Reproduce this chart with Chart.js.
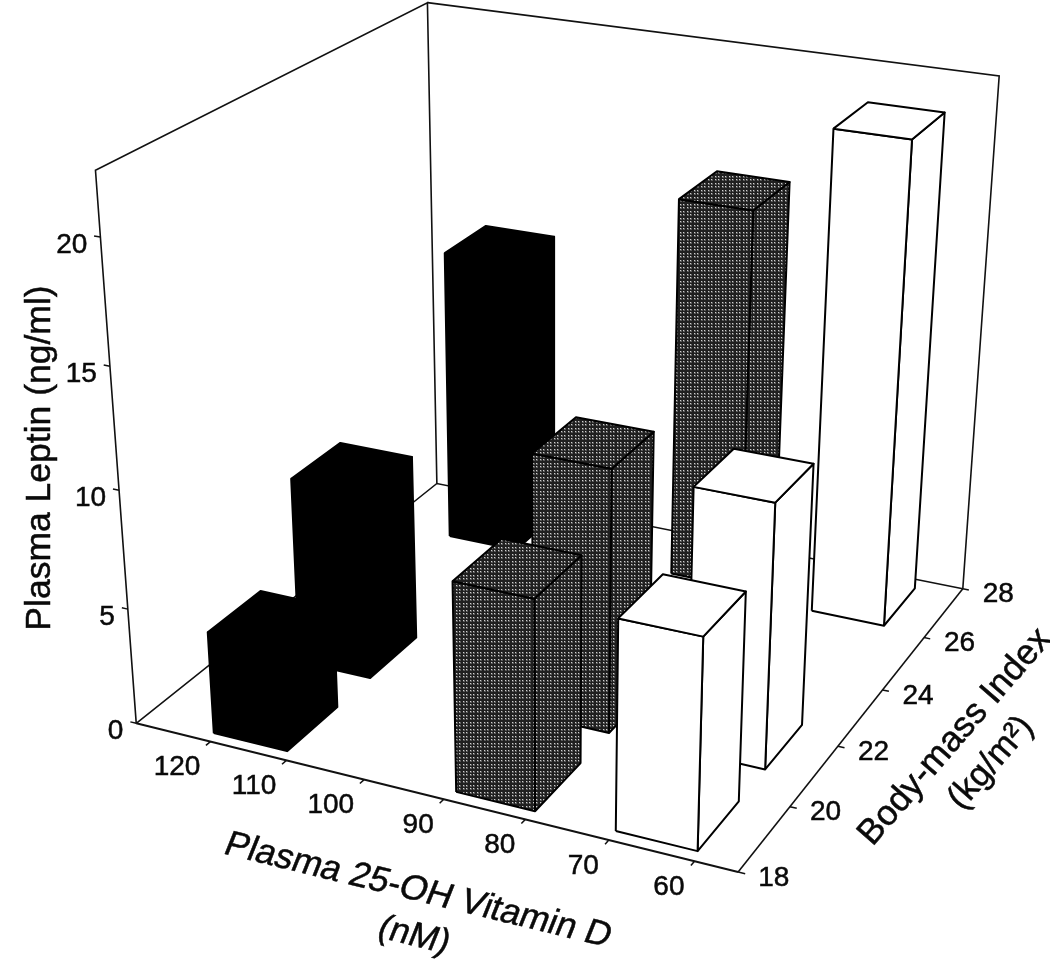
<!DOCTYPE html>
<html><head><meta charset="utf-8"><style>html,body{margin:0;padding:0;background:#fff}canvas{display:block}</style>
<script src="https://cdn.jsdelivr.net/npm/chart.js@4"></script></head>
<body><canvas id="c" width="1050" height="961"></canvas>
<script>
// ---- Data ----
const vitDTicks = [120,110,100,90,80,70,60];
const bmiTicks = [18,20,22,24,26,28];
const leptinTicks = [0,5,10,15,20];
const barNames = ['black high','black mid','black back','gray back','gray mid','gray front','white back','white mid','white front'];
const barTone = ['black','black','black','gray','gray','gray','white','white','white'];
const barVitDHigh = [120.7,120.7,120.7,90.0,89.5,89.5,70.0,70.0,70.1];
const barVitDLow  = [111.0,111.0,111.0,80.4,79.8,79.8,60.5,60.5,60.5];
const barBmiLow   = [18.25,20.86,26.11,26.41,20.87,18.27,26.12,20.86,18.27];
const barBmiHigh  = [19.80,22.42,27.64,27.99,22.40,19.84,27.66,22.39,19.82];
const barLeptin   = [4.41,8.15,13.25,16.93,11.23,8.80,21.01,11.15,8.73];
// draw order, back to front within each column
const drawOrder = [2,1,0,3,4,5,6,7,8];
// axis box limits
const vitDRange = [130,55], bmiRange = [18,28], leptinRange = [0,22.5];
// perspective camera fitted to the axis box
const cam = [538.34079,379.80492,-49.28394,136.24154,73.56308,-152.19817,-568.21039,723.32159,-0.08610,0.18123,-0.08920];

function project(v,b,l){
  const X=(vitDRange[0]-v)/(vitDRange[0]-vitDRange[1]),Y=(b-bmiRange[0])/(bmiRange[1]-bmiRange[0]),Z=l/leptinRange[1];
  const d=cam[8]*X+cam[9]*Y+cam[10]*Z+1;
  return {x:(cam[0]*X+cam[1]*Y+cam[2]*Z+cam[3])/d,y:(cam[4]*X+cam[5]*Y+cam[6]*Z+cam[7])/d};
}
// halftone screen for the gray bars
function halftone(){
  const t=document.createElement('canvas');t.width=7;t.height=7;
  const g=t.getContext('2d');g.fillStyle='#202020';g.fillRect(0,0,7,7);
  [[1,1],[4,1],[1,4],[4,4]].forEach(p=>{
    g.fillStyle='#5a5a5a';g.fillRect(p[0],p[1],2,2);
    g.fillStyle='#d0d0d0';g.fillRect(p[0],p[1],1,1);
  });
  return g.createPattern(t,'repeat');
}
const grayFill=halftone();
const datasets=[];
function line(name,pts,w,color){datasets.push({label:name,data:pts,showLine:true,fill:false,borderColor:color||'#111',borderWidth:w,pointRadius:0,tension:0,order:-datasets.length});}
function face(name,pts,tone){
  const bg=tone==='black'?'#000':tone==='gray'?grayFill:'#fff';
  datasets.push({label:name,data:[...pts,pts[0]],showLine:true,fill:'shape',backgroundColor:bg,borderColor:'#000',borderWidth:2,pointRadius:0,tension:0,borderJoinStyle:'round',order:-datasets.length});
}
const [vA,vB]=vitDRange,[bA,bB]=bmiRange,T=leptinRange[1];
// axis box
line('floor front',[project(vA,bA,0),project(vB,bA,0)],2);
line('floor right',[project(vB,bA,0),project(vB,bB,0)],1.6);
line('floor back',[project(vB,bB,0),project(vA,bB,0),project(vA,bA,0)],1.6);
line('wall left',[project(vA,bA,0),project(vA,bA,T),project(vA,bB,T),project(vA,bB,0)],1.6);
line('wall right',[project(vA,bB,T),project(vB,bB,T),project(vB,bB,0)],1.6);
// tick marks
vitDTicks.forEach(v=>line('tick '+v,[project(v,bA,0),project(v,bA-0.13,0)],1.5));
bmiTicks.forEach(b=>line('tick '+b,[project(vB,b,0),project(vB-0.8,b,0)],1.5));
leptinTicks.forEach(l=>line('tick '+l,[project(vA,bA,l),project(vA+0.8,bA,l)],1.5));
// bars
drawOrder.forEach(i=>{
  const v1=barVitDHigh[i],v2=barVitDLow[i],b1=barBmiLow[i],b2=barBmiHigh[i],h=barLeptin[i],n=barNames[i],t=barTone[i];
  face(n+' side',[project(v2,b1,0),project(v2,b2,0),project(v2,b2,h),project(v2,b1,h)],t);
  face(n+' front',[project(v1,b1,0),project(v2,b1,0),project(v2,b1,h),project(v1,b1,h)],t);
  face(n+' top',[project(v1,b1,h),project(v2,b1,h),project(v2,b2,h),project(v1,b2,h)],t);
});
const FONT='"Liberation Sans",Arial,sans-serif';
function text(ctx,s,x,y,size,align,rot,shear){
  ctx.save();ctx.translate(x,y);ctx.rotate((rot||0)*Math.PI/180);
  if(shear)ctx.transform(1,0,-shear,1,0,0);
  ctx.font=size+'px '+FONT;ctx.fillStyle='#0a0a0a';ctx.strokeStyle='#0a0a0a';ctx.lineWidth=0.5;
  ctx.textAlign=align||'center';ctx.textBaseline='middle';
  ctx.fillText(s,0,0);ctx.strokeText(s,0,0);ctx.restore();
}
const labels={id:'labels',afterDatasetsDraw(chart){
  const ctx=chart.ctx,sx=chart.scales.x,sy=chart.scales.y;
  const px=p=>({x:sx.getPixelForValue(p.x),y:sy.getPixelForValue(p.y)});
  leptinTicks.forEach(l=>{const p=px(project(vA,bA,l));text(ctx,String(l),p.x-13,p.y+8,28,'right');});
  vitDTicks.forEach(v=>{const p=px(project(v,bA,0));text(ctx,String(v),p.x-10,p.y+26,28,'right');});
  bmiTicks.forEach(b=>{const p=px(project(vB,b,0));text(ctx,String(b),p.x+20,p.y+6,28,'left');});
  text(ctx,'Plasma Leptin (ng/ml)',40,458,35.5,'center',-90);
  text(ctx,'Plasma 25-OH Vitamin D',418,891,35.5,'center',13.7,0.14);
  text(ctx,'(nM)',414,936,35,'center',13.7,0.14);
  text(ctx,'Body-mass Index',955,737,35.5,'center',-49);
  text(ctx,'(kg/m²)',991,763,35,'center',-49);
}};
new Chart(document.getElementById('c'),{type:'scatter',data:{datasets},plugins:[labels],
 options:{responsive:false,animation:false,devicePixelRatio:1,layout:{padding:0},
  plugins:{legend:{display:false},tooltip:{enabled:false},title:{display:false}},
  scales:{x:{type:'linear',min:0,max:1050,display:false},y:{type:'linear',min:0,max:961,reverse:true,display:false}}}});
</script></body></html>
